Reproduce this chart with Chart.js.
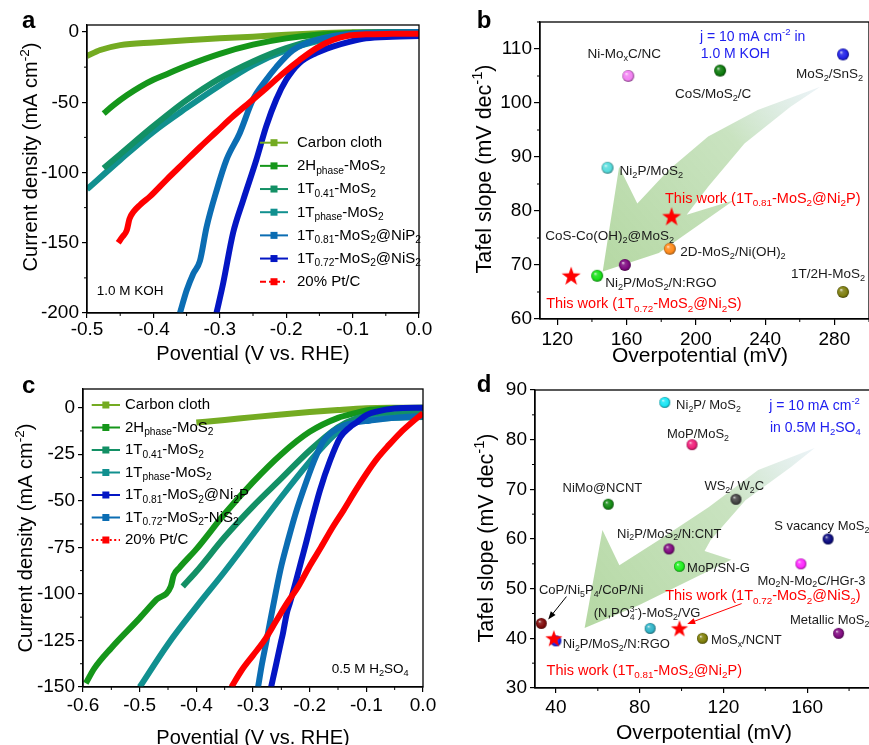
<!DOCTYPE html>
<html><head><meta charset="utf-8">
<script src="https://cdn.jsdelivr.net/npm/chart.js@4.4.1/dist/chart.umd.min.js"></script>
<style>
html,body{margin:0;padding:0;background:#fff;overflow:hidden}
#wrap{position:relative;width:869px;height:745px;overflow:hidden;background:#fff}
canvas{position:absolute}
</style></head><body>
<div id="wrap">
<canvas id="ca" width="435" height="370" style="left:0;top:0"></canvas>
<canvas id="cb" width="440" height="370" style="left:440px;top:0"></canvas>
<canvas id="cc" width="440" height="375" style="left:0;top:370px"></canvas>
<canvas id="cd" width="440" height="375" style="left:440px;top:370px"></canvas>
</div>
<script>
// ---------------- DATA ----------------
// Panel a (1.0 M KOH) : potential (V vs RHE) / current density (mA cm-2)
const aV_cc  = [-0.5,-0.48,-0.45,-0.4,-0.35,-0.3,-0.25,-0.2,-0.15,-0.1,0];
const aJ_cc  = [-17,-12.8,-9.3,-7.4,-5.9,-4.5,-3.3,-1.9,-0.9,-0.2,0];
const aV_2H  = [-0.475,-0.46,-0.44,-0.42,-0.4,-0.38,-0.35,-0.3,-0.25,-0.2,-0.15,-0.1,-0.05,0];
const aJ_2H  = [-58,-52,-45,-39,-34,-30,-24,-15.5,-9,-4.5,-1.8,-0.6,-0.1,0];
const aV_T41 = [-0.475,-0.45,-0.4,-0.35,-0.3,-0.25,-0.2,-0.15,-0.1,-0.05,0];
const aJ_T41 = [-97,-87,-67,-48.5,-33,-21,-11.5,-5,-1.5,-0.4,0];
const aV_Tph = [-0.5,-0.45,-0.4,-0.35,-0.3,-0.25,-0.2,-0.15,-0.1,-0.05,0];
const aJ_Tph = [-112,-91,-71,-54,-38,-23.5,-13,-6,-2,-0.7,-0.3];
const aV_NiP2 = [-0.36,-0.35,-0.34,-0.33,-0.32,-0.305,-0.29,-0.27,-0.25,-0.23,-0.215,-0.19,-0.155,-0.1,-0.05,0];
const aJ_NiP2 = [-200,-184,-172,-163,-139,-113,-91,-72,-48,-34,-25,-13,-5.7,-1,-0.3,0];
const aV_NiS2 = [-0.305,-0.295,-0.28,-0.265,-0.245,-0.23,-0.215,-0.2,-0.18,-0.155,-0.13,-0.105,-0.08,-0.04,0];
const aJ_NiS2 = [-200,-179,-143,-120,-91,-67,-48,-34,-22,-15,-10.4,-7,-4.5,-3.3,-2.8];
const aV_Pt  = [-0.453,-0.447,-0.44,-0.436,-0.43,-0.42,-0.405,-0.38,-0.355,-0.33,-0.305,-0.28,-0.255,-0.23,-0.205,-0.18,-0.155,-0.13,-0.105,-0.08,-0.04,0];
const aJ_Pt  = [-150,-146,-141,-133,-128,-123,-117,-105,-93.5,-82,-71,-60,-50,-40,-29.5,-20,-11.6,-5.7,-2.5,-1.6,-1.3,-1.2];
const aXTicks = [-0.5,-0.4,-0.3,-0.2,-0.1,0];
const aYTicks = [-200,-150,-100,-50,0];

// Panel c (0.5 M H2SO4)
const cV_cc  = [-0.4,-0.35,-0.3,-0.25,-0.2,-0.15,-0.1,-0.05,0];
const cJ_cc  = [-8,-6.6,-5.1,-3.7,-2.4,-1.3,-0.4,-0.1,0];
const cV_2H  = [-0.595,-0.58,-0.55,-0.5,-0.47,-0.445,-0.44,-0.43,-0.4,-0.35,-0.3,-0.25,-0.2,-0.15,-0.12,-0.1,-0.05,0];
const cJ_2H  = [-148,-140,-129,-113,-103,-96,-90,-86,-76,-57,-40,-25,-13,-5.5,-3,-1.5,-0.5,0];
const cV_T41 = [-0.424,-0.4,-0.35,-0.3,-0.25,-0.2,-0.15,-0.12,-0.1,-0.05,0];
const cJ_T41 = [-96,-88,-69.5,-53,-38,-23,-10.5,-6,-4.5,-3.5,-3];
const cV_Tph = [-0.5,-0.45,-0.4,-0.35,-0.3,-0.25,-0.2,-0.18,-0.15,-0.12,-0.1,-0.05,0];
const cJ_Tph = [-150,-127,-107,-88,-68,-48,-29,-22,-13,-8,-6.5,-5.5,-5];
const cV_Ni2P = [-0.268,-0.26,-0.25,-0.247,-0.244,-0.24,-0.235,-0.225,-0.215,-0.205,-0.195,-0.182,-0.164,-0.146,-0.129,-0.117,-0.1,-0.08,-0.05,0];
const cJ_Ni2P = [-150,-139,-125,-121,-116,-110,-105,-94,-82.5,-71,-59,-44.5,-28.4,-15.9,-10.5,-7.9,-4,-2,-0.5,0];
const cV_NiS2 = [-0.291,-0.285,-0.276,-0.268,-0.259,-0.25,-0.238,-0.225,-0.205,-0.19,-0.176,-0.16,-0.14,-0.12,-0.094,-0.05,0];
const cJ_NiS2 = [-150,-139,-125,-112,-98,-85,-71,-57,-39,-27,-18,-13,-9.6,-8,-7,-5.5,-4.5];
const cV_Pt  = [-0.338,-0.32,-0.3,-0.28,-0.26,-0.24,-0.22,-0.2,-0.18,-0.16,-0.14,-0.12,-0.1,-0.08,-0.06,-0.04,-0.02,0];
const cJ_Pt  = [-150,-141,-133,-125,-115,-105,-96,-85,-75,-64.5,-55,-45,-35.5,-27,-20,-13.5,-8,-3];
const cXTicks = [-0.6,-0.5,-0.4,-0.3,-0.2,-0.1,0];
const cYTicks = [-150,-125,-100,-75,-50,-25,0];

// Panel b (1.0 M KOH comparison)
const bNames = ['Ni-Mo_{x}C/NC','CoS/MoS_{2}/C','MoS_{2}/SnS_{2}','Ni_{2}P/MoS_{2}','2D-MoS_{2}/Ni(OH)_{2}','CoS-Co(OH)_{2}@MoS_{2}','Ni_{2}P/MoS_{2}/N:RGO','1T/2H-MoS_{2}'];
const bEta   = [161,214,285,149,185,159,143,285];
const bTafel = [105,106,109,88,73,70,68,65];
const bWorkNames = ['This work (1T_{0.81}-MoS_{2}@Ni_{2}P)','This work (1T_{0.72}-MoS_{2}@Ni_{2}S)'];
const bWorkEta   = [186,128];
const bWorkTafel = [79,68];
const bXTicks = [120,160,200,240,280];
const bYTicks = [60,70,80,90,100,110];

// Panel d (0.5 M H2SO4 comparison)
const dNames = ['Ni_{2}P/ MoS_{2}','MoP/MoS_{2}','NiMo@NCNT','WS_{2}/ W_{2}C','S vacancy MoS_{2}','Ni_{2}P/MoS_{2}/N:CNT','MoP/SN-G','Mo_{2}N-Mo_{2}C/HGr-3','CoP/Ni_{5}P_{4}/CoP/Ni','(N,PO_{4}^{3-})-MoS_{2}/VG','Metallic MoS_{2}','MoS_{x}/NCNT','Ni_{2}P/MoS_{2}/N:RGO'];
const dEta   = [92,105,65,126,170,94,99,157,33,85,175,110,40];
const dTafel = [87.5,79,67,68,60,58,54.5,55,43,42,41,40,39.5];
const dWorkNames = ['This work (1T_{0.72}-MoS_{2}@NiS_{2})','This work (1T_{0.81}-MoS_{2}@Ni_{2}P)'];
const dWorkEta   = [99,39];
const dWorkTafel = [42,40];
const dXTicks = [40,80,120,160];
const dYTicks = [30,40,50,60,70,80,90];

// ---------------- STYLE / LAYOUT ----------------
const FONT = "'Liberation Sans', Arial, Helvetica, sans-serif";
Chart.defaults.font.family = FONT;
Chart.defaults.color = '#000';

const COL = {cc:'#74ab22', h2:'#15961a', t41:'#139065', tph:'#11908f', mblue:'#0b6db3', dblue:'#0416c4', red:'#ff0000'};
const bColors = ['#f27ff2','#0c7a0c','#2222e6','#55dcdc','#ff8a1a','#7e0a80','#18e018','#7f7f10'];
const dColors = ['#18e6f5','#f0207a','#138a13','#444444','#0a0a80','#800a80','#20f020','#ff28ff','#800a0a','#30b4c8','#800a80','#80800a','#1a28ff'];

// label offsets (px from point) and alignment
const bLabelPos = [[-4,-23,'center'],[-7,23,'center'],[-13.5,19,'center'],[12,2,'left'],[10.4,2.4,'left'],[-79.6,-29.7,'left'],[8,6.7,'left'],[-52,-18.4,'left']];
const bWorkLabelPos = [[-6.6,-19,'left'],[-25,27.4,'left']];
const dLabelPos = [[11.3,2.3,'left'],[-25,-11.4,'left'],[-45.7,-17,'left'],[-31.6,-14,'left'],[-54,-14,'left'],[-52,-16,'left'],[7.6,0.6,'left'],[-43.4,16,'left'],[-2.4,-34,'left'],[-56.4,-15.6,'left'],[-48.6,-14,'left'],[8.4,1.3,'left'],[6.7,2.3,'left']];
const dWorkLabelPos = [[-14.3,-33.3,'left'],[-7.3,31.7,'left']];

// decorative big arrows (data coords), first = tip, tail marked
const bArrowShape = [[146.2,68.8],[155.7,88.2],[166.2,81.4],[184.3,87.6],[207.1,93.8],[235.7,98.7],[271.9,103],[254.7,99.3],[228.1,92.5],[207.1,84.5],[194.7,79.3],[222,82],[178.6,72.2]];
const dArrowShape = [[53.7,42.1],[62.2,61.8],[70.3,54.7],[89.2,59.8],[112.9,66.4],[136.6,73.9],[163.6,78.3],[152.3,74.5],[130.5,67.8],[113.9,59.8],[111,57.6],[123.8,55.8],[79.8,46.7]];
const dPointers = [{from:[45,48.4],to:[36.3,43.8],color:'#000'},{from:[128.7,47],to:[102.7,42.9],color:'#ff0000'}];

// ---------------- HELPERS ----------------
function parseRich(s){const out=[];let i=0,buf='';while(i<s.length){const c=s[i];if((c==='_'||c==='^')&&s[i+1]==='{'){if(buf){out.push({t:buf,k:'n'});buf='';}const j=s.indexOf('}',i+2);out.push({t:s.slice(i+2,j),k:c==='_'?'sub':'sup'});i=j+1;}else{buf+=c;i++;}}if(buf)out.push({t:buf,k:'n'});return out;}
function layoutRich(ctx,s,size,bold){const segs=parseRich(s);let x=0,prev=null;const items=[];for(const g of segs){const fs=g.k==='n'?size:size*0.68;ctx.font=(bold?'bold ':'')+fs+'px '+FONT;const w=ctx.measureText(g.t).width;let sx=x;if(g.k==='sup'&&prev&&prev.k==='sub'){sx=prev.x;x=Math.max(prev.x+prev.w,sx+w);}else x+=w;const dy=g.k==='sub'?size*0.22:g.k==='sup'?-size*0.42:0;const it={t:g.t,k:g.k,x:sx,w,fs,dy};items.push(it);prev=it;}return {items,width:x};}
function drawRich(ctx,s,x,y,size,color,align,bold){ctx.save();const L=layoutRich(ctx,s,size,bold);const x0=align==='center'?x-L.width/2:align==='right'?x-L.width:x;ctx.fillStyle=color;ctx.textBaseline='alphabetic';ctx.textAlign='left';const base=y+size*0.36;for(const it of L.items){ctx.font=(bold?'bold ':'')+it.fs+'px '+FONT;ctx.fillText(it.t,x0+it.x,base+it.dy);}ctx.restore();}
function mix(hex,t,tg){const n=parseInt(hex.slice(1),16);const r=n>>16&255,g=n>>8&255,b=n&255;return 'rgb('+Math.round(r+(tg[0]-r)*t)+','+Math.round(g+(tg[1]-g)*t)+','+Math.round(b+(tg[2]-b)*t)+')';}
function sphere(hex,r){const s=Math.ceil(2*r)+2;const c=document.createElement('canvas');c.width=s;c.height=s;const g=c.getContext('2d');const cx=s/2,cy=s/2;const gr=g.createRadialGradient(cx-r*0.35,cy-r*0.4,0,cx,cy,r);gr.addColorStop(0,mix(hex,0.85,[255,255,255]));gr.addColorStop(0.3,mix(hex,0.15,[255,255,255]));gr.addColorStop(0.75,hex);gr.addColorStop(1,mix(hex,0.45,[0,0,0]));g.fillStyle=gr;g.beginPath();g.arc(cx,cy,r,0,Math.PI*2);g.fill();return c;}
function star(R,color){const s=Math.ceil(2*R)+2;const c=document.createElement('canvas');c.width=s;c.height=s;const g=c.getContext('2d');const cx=s/2,cy=s/2+R*0.08;g.beginPath();for(let i=0;i<10;i++){const rr=i%2?R*0.4:R;const a=-Math.PI/2+i*Math.PI/5;g.lineTo(cx+rr*Math.cos(a),cy+rr*Math.sin(a));}g.closePath();g.fillStyle=color;g.fill();return c;}
function pts(V,J){return V.map((v,i)=>({x:v,y:J[i]}));}
function lsv(label,V,J,color,order){return {label,data:pts(V,J),borderColor:color,backgroundColor:color,borderWidth:6,pointRadius:0,tension:0,cubicInterpolationMode:'monotone',order,borderJoinStyle:'round',clip:0};}

const DECO = {};
const decoPlugin = {
  id:'deco',
  beforeDatasetsDraw(chart){
    const d=DECO[chart.canvas.id]; if(!d||!d.poly) return;
    const ctx=chart.ctx,a=chart.chartArea,xs=chart.scales.x,ys=chart.scales.y;
    const P=d.poly.map(p=>[xs.getPixelForValue(p[0]),ys.getPixelForValue(p[1])]);
    const tip=P[0],tail=P[d.tail];
    ctx.save();ctx.beginPath();ctx.rect(a.left,a.top,a.right-a.left,a.bottom-a.top);ctx.clip();
    const gr=ctx.createLinearGradient(tail[0],tail[1],tip[0],tip[1]);
    gr.addColorStop(0,'rgba(200,222,232,0.35)');gr.addColorStop(0.35,'rgba(165,208,150,0.6)');gr.addColorStop(1,'rgba(150,200,125,0.7)');
    ctx.fillStyle=gr;ctx.beginPath();P.forEach((p,i)=>i?ctx.lineTo(p[0],p[1]):ctx.moveTo(p[0],p[1]));ctx.closePath();ctx.fill();ctx.restore();
  },
  afterDatasetsDraw(chart){
    const d=DECO[chart.canvas.id]; if(!d) return;
    const ctx=chart.ctx,a=chart.chartArea,xs=chart.scales.x,ys=chart.scales.y;
    ctx.save();ctx.strokeStyle='#000';ctx.lineWidth=1.3;ctx.strokeRect(a.left,a.top,a.right-a.left,a.bottom-a.top);
    ctx.lineWidth=1;ctx.beginPath();
    for(const v of d.xMinor){const px=xs.getPixelForValue(v);ctx.moveTo(px,a.bottom);ctx.lineTo(px,a.bottom+3);}
    for(const v of d.yMinor){const py=ys.getPixelForValue(v);ctx.moveTo(a.left,py);ctx.lineTo(a.left-3,py);}
    ctx.stroke();ctx.restore();
    // pointers
    if(d.pointers){for(const p of d.pointers){const x1=xs.getPixelForValue(p.from[0]),y1=ys.getPixelForValue(p.from[1]),x2=xs.getPixelForValue(p.to[0]),y2=ys.getPixelForValue(p.to[1]);const ang=Math.atan2(y2-y1,x2-x1);ctx.save();ctx.strokeStyle=p.color;ctx.fillStyle=p.color;ctx.lineWidth=1;ctx.beginPath();ctx.moveTo(x1,y1);ctx.lineTo(x2-6*Math.cos(ang),y2-6*Math.sin(ang));ctx.stroke();ctx.beginPath();ctx.moveTo(x2,y2);ctx.lineTo(x2-8*Math.cos(ang)+3*Math.sin(ang),y2-8*Math.sin(ang)-3*Math.cos(ang));ctx.lineTo(x2-8*Math.cos(ang)-3*Math.sin(ang),y2-8*Math.sin(ang)+3*Math.cos(ang));ctx.closePath();ctx.fill();ctx.restore();}}
    // point labels
    if(d.pointLabels){for(const L of d.pointLabels){const meta=chart.getDatasetMeta(L.ds);meta.data.forEach((el,i)=>{const p=L.pos[i];drawRich(ctx,L.labels[i],el.x+p[0],el.y+p[1],L.size,L.color,p[2]);});}}
    // texts
    for(const t of (d.texts||[])) drawRich(ctx,t.t,t.x,t.y,t.size,t.color,t.align);
    // legend
    if(d.legend){const g=d.legend;chart.data.datasets.forEach((ds,i)=>{const y=g.y0+i*g.dy;ctx.save();ctx.strokeStyle=ds.borderColor;ctx.lineWidth=2;if(ds.legendDash)ctx.setLineDash(ds.legendDash);ctx.beginPath();ctx.moveTo(g.x0,y);ctx.lineTo(g.x1,y);ctx.stroke();ctx.setLineDash([]);ctx.fillStyle=ds.borderColor;const xm=(g.x0+g.x1)/2;ctx.fillRect(xm-3.5,y-3.5,7,7);ctx.restore();drawRich(ctx,ds.label,g.xt,y-1,g.size,'#000','left');});}
    // titles
    if(d.xTitle) drawRich(ctx,d.xTitle.t,d.xTitle.x,d.xTitle.y,d.xTitle.size,'#000','center');
    if(d.yTitle){ctx.save();ctx.translate(d.yTitle.x,d.yTitle.y);ctx.rotate(-Math.PI/2);drawRich(ctx,d.yTitle.t,0,0,d.yTitle.size,'#000','center');ctx.restore();}
    if(d.letter){ctx.save();ctx.font='bold 24px '+FONT;ctx.fillStyle='#000';ctx.textBaseline='alphabetic';ctx.fillText(d.letter.t,d.letter.x,d.letter.y);ctx.restore();}
  }
};

function axis(min,max,ticks,fmt,fitKey,fitVal,tl,pad){
  return {type:'linear',min,max,
    afterBuildTicks:s=>{s.ticks=ticks.map(v=>({value:v}));},
    afterFit:s=>{s[fitKey]=fitVal;},
    ticks:{font:{size:19},color:'#000',padding:pad,maxRotation:0,autoSkip:false,callback:fmt},
    grid:{drawOnChartArea:false,drawTicks:true,tickLength:tl,color:'#000',lineWidth:1.2},
    border:{display:true,color:'#000',width:1.3}};
}
function baseOpts(pad,xs,ys){return {responsive:false,animation:false,events:[],layout:{padding:pad},plugins:{legend:{display:false},tooltip:{enabled:false}},scales:{x:xs,y:ys}};}

// ---------------- PANEL a ----------------
DECO.ca = {
  letter:{t:'a',x:22,y:28},
  yTitle:{t:'Current density (mA cm^{-2})',x:30,y:157,size:20},
  xTitle:{t:'Povential (V vs. RHE)',x:253,y:353,size:20},
  xMinor:[-0.45,-0.35,-0.25,-0.15,-0.05], yMinor:[-175,-125,-75,-25],
  texts:[{t:'1.0 M KOH',x:96.7,y:290,size:13.5,color:'#000',align:'left'}],
  legend:{x0:260,x1:288,xt:297,y0:142.7,dy:23.17,size:15}
};
const aPt = lsv('20% Pt/C',aV_Pt,aJ_Pt,COL.red,0); aPt.legendDash=[6,3,2,3];
new Chart(document.getElementById('ca'),{type:'line',
  data:{datasets:[
    lsv('Carbon cloth',aV_cc,aJ_cc,COL.cc,6),
    lsv('2H_{phase}-MoS_{2}',aV_2H,aJ_2H,COL.h2,5),
    lsv('1T_{0.41}-MoS_{2}',aV_T41,aJ_T41,COL.t41,3),
    lsv('1T_{phase}-MoS_{2}',aV_Tph,aJ_Tph,COL.tph,4),
    lsv('1T_{0.81}-MoS_{2}@NiP_{2}',aV_NiP2,aJ_NiP2,COL.mblue,2),
    lsv('1T_{0.72}-MoS_{2}@NiS_{2}',aV_NiS2,aJ_NiS2,COL.dblue,1),
    aPt]},
  options:baseOpts({left:0,top:25,right:16,bottom:0},
    axis(-0.5,0,aXTicks,v=>v.toFixed(1),'height',57,5,0),
    axis(-200,5,aYTicks,v=>String(v),'width',87,5,3)),
  plugins:[decoPlugin]});

// ---------------- PANEL c ----------------
DECO.cc = {
  letter:{t:'c',x:22,y:23},
  yTitle:{t:'Current density (mA cm^{-2})',x:25,y:168,size:20},
  xTitle:{t:'Povential (V vs. RHE)',x:253,y:366.7,size:20},
  xMinor:[-0.55,-0.45,-0.35,-0.25,-0.15,-0.05], yMinor:[-137.5,-112.5,-87.5,-62.5,-37.5,-12.5],
  texts:[{t:'0.5 M H_{2}SO_{4}',x:331.7,y:297.7,size:13.5,color:'#000',align:'left'}],
  legend:{x0:91.7,x1:120,xt:125,y0:35,dy:22.5,size:15}
};
const cPt = lsv('20% Pt/C',cV_Pt,cJ_Pt,COL.red,0); cPt.legendDash=[2,2.5];
new Chart(document.getElementById('cc'),{type:'line',
  data:{datasets:[
    lsv('Carbon cloth',cV_cc,cJ_cc,COL.cc,6),
    lsv('2H_{phase}-MoS_{2}',cV_2H,cJ_2H,COL.h2,5),
    lsv('1T_{0.41}-MoS_{2}',cV_T41,cJ_T41,COL.t41,4),
    lsv('1T_{phase}-MoS_{2}',cV_Tph,cJ_Tph,COL.tph,3),
    lsv('1T_{0.81}-MoS_{2}@Ni_{2}P',cV_Ni2P,cJ_Ni2P,COL.dblue,1),
    lsv('1T_{0.72}-MoS_{2}-NiS_{2}',cV_NiS2,cJ_NiS2,COL.mblue,2),
    cPt]},
  options:baseOpts({left:0,top:19,right:17,bottom:0},
    axis(-0.6,0,cXTicks,v=>v.toFixed(1),'height',58,5,2.5),
    axis(-150,10,cYTicks,v=>String(v),'width',83,5,3)),
  plugins:[decoPlugin]});

// ---------------- PANEL b ----------------
DECO.cb = {
  letter:{t:'b',x:36.7,y:28},
  yTitle:{t:'Tafel slope (mV dec^{-1})',x:43,y:169,size:21.5},
  xTitle:{t:'Overpotential (mV)',x:260,y:354,size:21},
  xMinor:[140,180,220,260,300], yMinor:[65,75,85,95,105,115],
  poly:bArrowShape, tail:6,
  pointLabels:[{ds:0,labels:bNames,pos:bLabelPos,size:13.5,color:'#1a1a1a'},{ds:1,labels:bWorkNames,pos:bWorkLabelPos,size:14.5,color:'#ff0000'}],
  texts:[{t:'j = 10 mA cm^{-2} in',x:260,y:36,size:14,color:'#2020f0',align:'left'},{t:'1.0 M KOH',x:260.7,y:52.7,size:14,color:'#2020f0',align:'left'}]
};
new Chart(document.getElementById('cb'),{type:'scatter',
  data:{datasets:[
    {label:'Reported',data:pts(bEta,bTafel),pointStyle:bColors.map(c=>sphere(c,6)),pointRadius:6,clip:false,order:1},
    {label:'This work',data:pts(bWorkEta,bWorkTafel),pointStyle:star(10,'#ff0000'),pointRadius:10,clip:false,order:0}]},
  options:baseOpts({left:0,top:22,right:7.5,bottom:0},
    axis(110,300,bXTicks,v=>String(v),'height',51,6,3),
    axis(60,115,bYTicks,v=>String(v),'width',100,6,2)),
  plugins:[decoPlugin]});

// ---------------- PANEL d ----------------
DECO.cd = {
  letter:{t:'d',x:36.7,y:22},
  yTitle:{t:'Tafel slope (mV dec^{-1})',x:45,y:168,size:21.5},
  xTitle:{t:'Overpotential (mV)',x:264,y:361.7,size:21},
  xMinor:[60,100,140,180], yMinor:[35,45,55,65,75,85],
  poly:dArrowShape, tail:6, pointers:dPointers,
  pointLabels:[{ds:0,labels:dNames,pos:dLabelPos,size:13,color:'#1a1a1a'},{ds:1,labels:dWorkNames,pos:dWorkLabelPos,size:14.5,color:'#ff0000'}],
  texts:[{t:'j = 10 mA cm^{-2}',x:329.3,y:35,size:14,color:'#2020f0',align:'left'},{t:'in 0.5M H_{2}SO_{4}',x:330,y:57.3,size:14,color:'#2020f0',align:'left'}]
};
new Chart(document.getElementById('cd'),{type:'scatter',
  data:{datasets:[
    {label:'Reported',data:pts(dEta,dTafel),pointStyle:dColors.map(c=>sphere(c,5.5)),pointRadius:6,clip:false,order:1},
    {label:'This work',data:pts(dWorkEta,dWorkTafel),pointStyle:star(9,'#ff0000'),pointRadius:9,clip:false,order:0}]},
  options:baseOpts({left:0,top:20,right:7.4,bottom:0},
    axis(30,190,dXTicks,v=>String(v),'height',57,5,3.5),
    axis(30,90,dYTicks,v=>String(v),'width',95,5,3)),
  plugins:[decoPlugin]});
</script></body></html>
